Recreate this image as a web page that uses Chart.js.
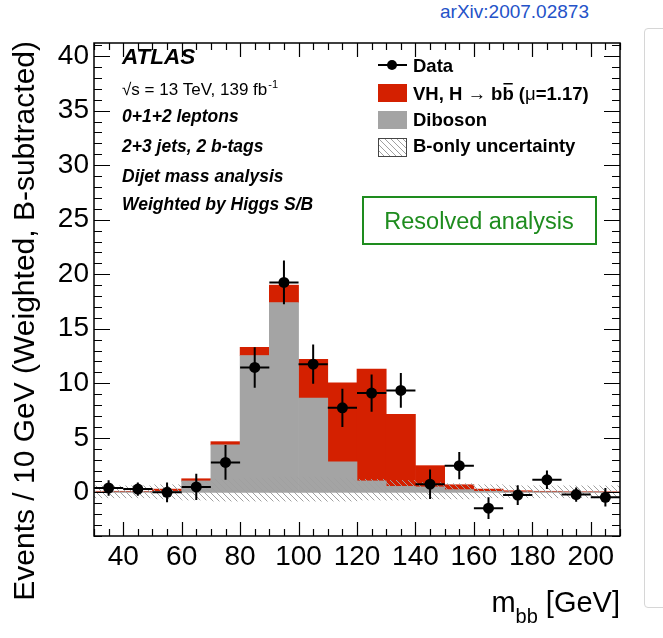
<!DOCTYPE html>
<html>
<head>
<meta charset="utf-8">
<script src="https://cdn.jsdelivr.net/npm/chart.js@4"></script>
<style>
  body { margin: 0; background: #fff; width: 663px; height: 638px; overflow: hidden; position: relative; }
  #c { position: absolute; left: 0; top: 0; }
  #arxiv { position: absolute; left: 440px; top: 1px; font: 19px "Liberation Sans", Arial, sans-serif; color: #2452c8; }
  #panel { position: absolute; left: 644px; top: 28px; width: 40px; height: 578px; border: 1px solid #d6d6d6; border-radius: 4px; }
</style>
</head>
<body>
<div id="arxiv">arXiv:2007.02873</div>
<div id="panel"></div>
<canvas id="c" width="663" height="638"></canvas>
<script>
// bin centres (m_bb, GeV), 10 GeV wide
var binCenters = [35, 45, 55, 65, 75, 85, 95, 105, 115, 125, 135, 145, 155, 165, 175, 185, 195, 205];
var diboson = [0.05, 0.05, 0.1, 1.05, 4.35, 12.55, 17.4, 8.65, 2.8, 1.05, 0.55, 0.5, 0.25, 0.1, 0.05, 0.05, 0.03, 0.03];
var vhSignal = [0.05, 0.05, 0.2, 0.2, 0.3, 0.75, 1.6, 3.55, 7.25, 10.25, 6.6, 1.95, 0.45, 0.2, 0.1, 0.05, 0.03, 0.03];
var dataVals = [0.4, 0.3, 0.0, 0.5, 2.75, 11.45, 19.25, 11.75, 7.75, 9.1, 9.35, 0.75, 2.45, -1.45, -0.25, 1.15, -0.2, -0.45];
var dataErr = [0.7, 0.6, 0.9, 1.2, 1.6, 1.85, 2.0, 1.8, 1.75, 1.7, 1.6, 1.35, 1.25, 1.0, 0.9, 0.85, 0.65, 0.85];
var uncLow = [-0.5, -0.5, -0.6, -0.7, -0.8, -0.8, -0.8, -0.8, -0.8, -0.7, -0.7, -0.6, -0.6, -0.5, -0.5, -0.5, -0.5, -0.5];
var uncHigh = [0.6, 0.6, 0.7, 1.0, 1.2, 1.3, 1.4, 1.4, 1.3, 1.2, 1.1, 0.9, 0.8, 0.7, 0.6, 0.6, 0.6, 0.6];
var xTicks = [40, 60, 80, 100, 120, 140, 160, 180, 200];
var yTicks = [0, 5, 10, 15, 20, 25, 30, 35, 40];

var FONT = '"Liberation Sans", Arial, Helvetica, sans-serif';
var RED = '#d42000';
var GREY = '#a4a4a4';

function hatch() {
  var c = document.createElement('canvas');
  c.width = 6; c.height = 6;
  var g = c.getContext('2d');
  g.strokeStyle = '#a0a0a0';
  g.lineWidth = 1;
  g.beginPath();
  g.moveTo(0, 0); g.lineTo(6, 6);
  g.moveTo(-1, 5); g.lineTo(1, 7);
  g.moveTo(5, -1); g.lineTo(7, 1);
  g.stroke();
  return g.createPattern(c, 'repeat');
}
var hatchFill = hatch();

// ticks inside the frame + frame + error bars
var framePlugin = {
  id: 'frame',
  afterDatasetsDraw: function (chart) {
    var ctx = chart.ctx, a = chart.chartArea, x = chart.scales.x, y = chart.scales.y;
    ctx.save();
    // error bars
    ctx.strokeStyle = '#000';
    ctx.lineWidth = 2;
    for (var i = 0; i < binCenters.length; i++) {
      var px = x.getPixelForValue(binCenters[i]);
      var py = y.getPixelForValue(dataVals[i]);
      ctx.beginPath();
      ctx.moveTo(px, y.getPixelForValue(dataVals[i] + dataErr[i]));
      ctx.lineTo(px, y.getPixelForValue(dataVals[i] - dataErr[i]));
      ctx.moveTo(x.getPixelForValue(binCenters[i] - 5), py);
      ctx.lineTo(x.getPixelForValue(binCenters[i] + 5), py);
      ctx.stroke();
    }
    // ticks
    ctx.lineWidth = 1.2;
    ctx.beginPath();
    for (var v = 30; v <= 210; v += 5) {
      var tx = Math.round(x.getPixelForValue(v)) + 0.5;
      var len = v % 20 === 0 ? 14 : 7;
      ctx.moveTo(tx, a.bottom); ctx.lineTo(tx, a.bottom - len);
      ctx.moveTo(tx, a.top); ctx.lineTo(tx, a.top + len);
    }
    for (var w = -4; w <= 41; w++) {
      var ty = Math.round(y.getPixelForValue(w)) + 0.5;
      var l2 = w % 5 === 0 ? 16 : 8;
      ctx.moveTo(a.left, ty); ctx.lineTo(a.left + l2, ty);
      ctx.moveTo(a.right, ty); ctx.lineTo(a.right - l2, ty);
    }
    ctx.stroke();
    ctx.lineWidth = 1.5;
    ctx.strokeRect(a.left, a.top, a.right - a.left, a.bottom - a.top);
    ctx.restore();
  },
  afterDraw: function (chart) {
    var ctx = chart.ctx, a = chart.chartArea;
    ctx.save();
    ctx.fillStyle = '#000';
    ctx.textBaseline = 'alphabetic';

    // y title
    ctx.save();
    ctx.translate(34, a.top - 2);
    ctx.rotate(-Math.PI / 2);
    ctx.textAlign = 'right';
    ctx.font = '30px ' + FONT;
    ctx.fillText('Events / 10 GeV (Weighted, B-subtracted)', 0, 0);
    ctx.restore();

    // x title with subscript
    ctx.textAlign = 'left';
    var big = '29px ' + FONT, small = '20px ' + FONT;
    ctx.font = big; var wM = ctx.measureText('m').width; var wG = ctx.measureText(' [GeV]').width;
    ctx.font = small; var wB = ctx.measureText('bb').width;
    var sx = a.right - (wM + wB + wG);
    ctx.font = big; ctx.fillText('m', sx, 612);
    ctx.font = small; ctx.fillText('bb', sx + wM, 623);
    ctx.font = big; ctx.fillText(' [GeV]', sx + wM + wB, 612);

    // ATLAS labels
    ctx.font = 'italic bold 22.5px ' + FONT;
    ctx.fillText('ATLAS', 122, 64);
    ctx.font = '17px ' + FONT;
    var s1 = '\u221As = 13 TeV, 139 fb';
    ctx.fillText(s1, 122, 95);
    var w1 = ctx.measureText(s1).width;
    ctx.font = '11px ' + FONT;
    ctx.fillText('-1', 122 + w1 + 1, 88);
    ctx.font = 'italic bold 17.5px ' + FONT;
    ctx.fillText('0+1+2 leptons', 122, 122);
    ctx.fillText('2+3 jets, 2 b-tags', 122, 152);
    ctx.fillText('Dijet mass analysis', 122, 182);
    ctx.fillText('Weighted by Higgs S/B', 122, 210);

    // legend
    var LF = 'bold 18.5px ' + FONT, LN = '18.5px ' + FONT;
    ctx.strokeStyle = '#000';
    ctx.lineWidth = 2;
    ctx.beginPath(); ctx.moveTo(378, 65); ctx.lineTo(407, 65); ctx.stroke();
    ctx.beginPath(); ctx.arc(392, 65, 5, 0, Math.PI * 2); ctx.fill();
    ctx.fillStyle = RED; ctx.fillRect(378, 84, 29, 18);
    ctx.fillStyle = GREY; ctx.fillRect(378, 111, 29, 18);
    ctx.fillStyle = hatchFill; ctx.fillRect(378, 138, 29, 19);
    ctx.strokeStyle = '#444'; ctx.lineWidth = 1;
    ctx.strokeRect(378.5, 138.5, 28, 18);
    ctx.fillStyle = '#000';
    ctx.font = LF;
    ctx.fillText('Data', 413, 72);
    var p1 = 'VH, H ';
    ctx.fillText(p1, 413, 100);
    var lx = 413 + ctx.measureText(p1).width;
    ctx.font = LN; ctx.fillText('\u2192', lx, 100); lx += ctx.measureText('\u2192 ').width;
    ctx.font = LF;
    ctx.fillText('b', lx, 100); lx += ctx.measureText('b').width;
    var wb = ctx.measureText('b').width;
    ctx.fillText('b', lx, 100);
    ctx.fillRect(lx + 1, 83, wb - 2, 1.5);
    lx += wb;
    ctx.fillText(' (', lx, 100); lx += ctx.measureText(' (').width;
    ctx.font = LN; ctx.fillText('\u03BC', lx, 100); lx += ctx.measureText('\u03BC').width;
    ctx.font = LF; ctx.fillText('=1.17)', lx, 100);
    ctx.fillText('Diboson', 413, 126);
    ctx.fillText('B-only uncertainty', 413, 152);

    // resolved box
    ctx.strokeStyle = '#1e8c1e'; ctx.lineWidth = 2;
    ctx.strokeRect(363, 197, 233, 47);
    ctx.fillStyle = '#1e8c1e';
    ctx.font = '23.5px ' + FONT;
    ctx.textAlign = 'center';
    ctx.fillText('Resolved analysis', 479, 229);
    ctx.restore();
  }
};

new Chart(document.getElementById('c').getContext('2d'), {
  type: 'bar',
  data: {
    datasets: [
      {
        type: 'line', label: 'Data', showLine: false, order: 0,
        data: binCenters.map(function (c, i) { return { x: c, y: dataVals[i] }; }),
        pointRadius: 5.5, pointBackgroundColor: '#000', pointBorderWidth: 0
      },
      {
        label: 'B-only uncertainty', stack: 'mc', order: 1,
        data: binCenters.map(function (c, i) { return { x: c, y: [uncLow[i], uncHigh[i]] }; }),
        backgroundColor: hatchFill
      },
      {
        label: 'Diboson', stack: 'mc', order: 2,
        data: binCenters.map(function (c, i) { return { x: c, y: [0, diboson[i]] }; }),
        backgroundColor: GREY
      },
      {
        label: 'VH', stack: 'mc', order: 3,
        data: binCenters.map(function (c, i) { return { x: c, y: [diboson[i], diboson[i] + vhSignal[i]] }; }),
        backgroundColor: RED
      }
    ]
  },
  options: {
    responsive: false,
    animation: false,
    events: [],
    barPercentage: 1,
    categoryPercentage: 1,
    layout: { padding: { top: 43, right: 43, left: 0, bottom: 0 } },
    plugins: { legend: { display: false }, tooltip: { enabled: false } },
    scales: {
      x: {
        type: 'linear', min: 30, max: 210, offset: false, stacked: true,
        grid: { display: false, drawTicks: false, offset: false },
        border: { display: false },
        ticks: { color: '#000', font: { size: 28, family: FONT }, padding: 4, maxRotation: 0, autoSkip: false },
        afterBuildTicks: function (s) { s.ticks = xTicks.map(function (v) { return { value: v }; }); },
        afterFit: function (s) { s.height = 102; }
      },
      y: {
        type: 'linear', min: -4, max: 41.2, stacked: false,
        grid: { display: false, drawTicks: false },
        border: { display: false },
        ticks: { color: '#000', font: { size: 28, family: FONT }, padding: 5 },
        afterBuildTicks: function (s) { s.ticks = yTicks.map(function (v) { return { value: v }; }); },
        afterFit: function (s) { s.width = 94; }
      }
    }
  },
  plugins: [framePlugin]
});
</script>
</body>
</html>
